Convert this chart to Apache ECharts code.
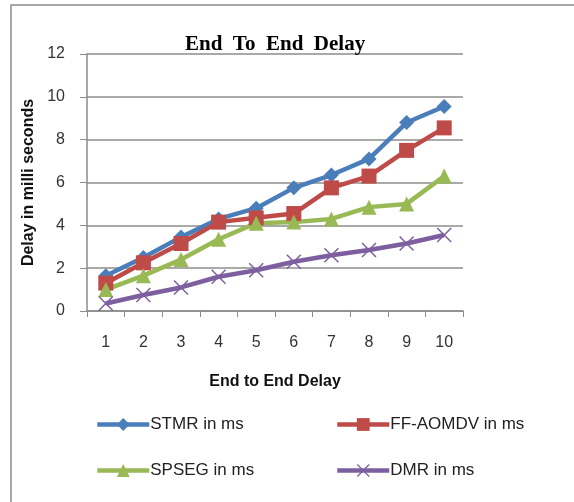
<!DOCTYPE html>
<html>
<head>
<meta charset="utf-8">
<script src="https://cdn.jsdelivr.net/npm/echarts@6/dist/echarts.min.js"></script>
<style>
  html, body { margin: 0; padding: 0; background: #fff; }
  #main { width: 574px; height: 502px; }
</style>
</head>
<body>
<div id="main"></div>
<script>
// data
var categories = ['1', '2', '3', '4', '5', '6', '7', '8', '9', '10']
var stmr = [1.65, 2.5, 3.45, 4.3, 4.8, 5.75, 6.35, 7.1, 8.8, 9.55]
var ffAomdv = [1.3, 2.25, 3.15, 4.15, 4.35, 4.55, 5.75, 6.3, 7.5, 8.55]
var spseg = [1.0, 1.65, 2.4, 3.35, 4.1, 4.15, 4.3, 4.85, 5.0, 6.3]
var dmr = [0.35, 0.75, 1.1, 1.6, 1.9, 2.3, 2.6, 2.85, 3.15, 3.55]
var yTicks = [0, 2, 4, 6, 8, 10, 12]

var chart = echarts.init(document.getElementById('main'))
var labelFont = 'Liberation Sans, Arial, sans-serif'
var crossPath = 'path://M0,1.4L1.4,0L10,8.6L18.6,0L20,1.4L11.4,10L20,18.6L18.6,20L10,11.4L1.4,20L0,18.6L8.6,10Z'

function makeSeries(name, data, color, symbol, size) {
  return {
    name: name,
    type: 'line',
    data: data,
    symbol: symbol,
    symbolSize: size,
    lineStyle: { color: color, width: 4.5 },
    itemStyle: { color: color },
    z: 3
  }
}

function legendAt(name, left, top) {
  return {
    data: [name],
    left: left,
    top: top,
    itemWidth: 52,
    itemHeight: 16,
    itemGap: 0,
    lineStyle: { width: 4.5 },
    textStyle: { fontFamily: labelFont, fontSize: 17, color: '#222', padding: [0, 0, 0, -4] }
  }
}

chart.setOption({
  backgroundColor: '#fff',
  animation: false,
  title: {
    text: 'End  To  End  Delay',
    left: 180,
    top: 29,
    textStyle: { fontFamily: 'Liberation Serif, Times New Roman, serif', fontWeight: 'bold', fontSize: 21, color: '#000' }
  },
  graphic: [{
    type: 'rect',
    shape: { x: 11, y: 5, width: 700, height: 700 },
    style: { fill: 'none', stroke: '#8c8c8c', lineWidth: 1.5 }
  }],
  legend: [
    legendAt('STMR in ms', 90, 411),
    legendAt('FF-AOMDV in ms', 330, 411),
    legendAt('SPSEG in ms', 90, 457),
    legendAt('DMR in ms', 330, 457)
  ],
  grid: { left: 87, right: 111, top: 54, bottom: 191 },
  xAxis: {
    type: 'category',
    data: categories,
    boundaryGap: true,
    name: 'End to End Delay',
    nameLocation: 'middle',
    nameGap: 63,
    nameTextStyle: { fontFamily: labelFont, fontWeight: 'bold', fontSize: 16, color: '#111' },
    axisLine: { lineStyle: { color: '#8c8c8c', width: 1.5 } },
    axisTick: { show: true, alignWithLabel: false, length: 6, lineStyle: { color: '#8c8c8c' } },
    axisLabel: { fontFamily: labelFont, fontSize: 16, color: '#333', margin: 24 },
    splitLine: { show: false }
  },
  yAxis: {
    type: 'value',
    min: yTicks[0],
    max: yTicks[yTicks.length - 1],
    interval: 2,
    name: 'Delay in milli seconds',
    nameLocation: 'middle',
    nameGap: 44,
    nameTextStyle: { fontFamily: labelFont, fontWeight: 'bold', fontSize: 16, color: '#111' },
    axisLine: { show: true, lineStyle: { color: '#8c8c8c', width: 1.5 } },
    axisTick: { show: true, length: 7, lineStyle: { color: '#8c8c8c' } },
    axisLabel: { fontFamily: labelFont, fontSize: 16, color: '#333', margin: 22 },
    splitLine: { show: true, lineStyle: { color: '#8c8c8c', width: 1.5 } }
  },
  series: [
    makeSeries('STMR in ms', stmr, '#4a7ebb', 'diamond', 15),
    makeSeries('FF-AOMDV in ms', ffAomdv, '#be4b48', 'rect', 15),
    makeSeries('SPSEG in ms', spseg, '#98b954', 'triangle', 15),
    makeSeries('DMR in ms', dmr, '#7d5fa0', crossPath, 15)
  ]
})
</script>
</body>
</html>
